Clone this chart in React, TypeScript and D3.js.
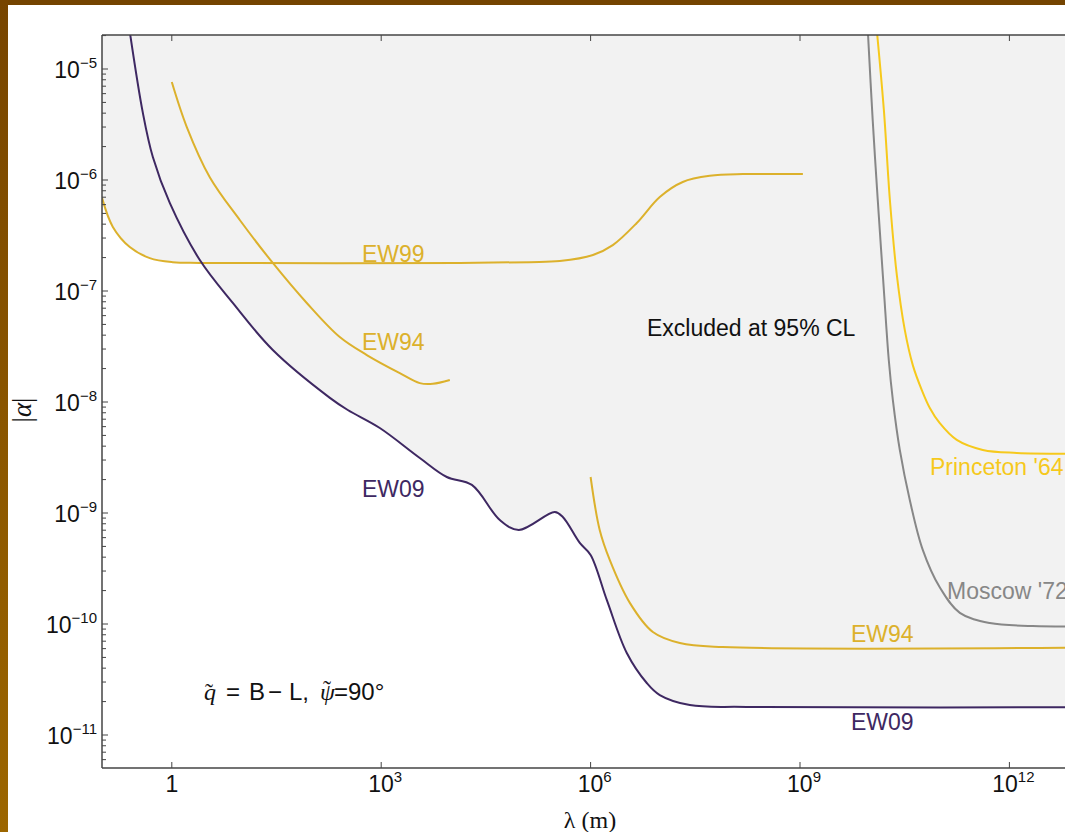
import React from "react";
import * as d3 from "d3";

type Pt = [number, number];

// [lambda (m), |alpha|]
const ew09: Pt[] = [
  [0.242, 2.49e-5], [0.385, 4.02e-6], [0.535, 1.61e-6], [0.935, 6.21e-7], [2.52, 1.9e-7],
  [7.48, 7.8e-8], [28.0, 2.94e-8], [184, 1.09e-8], [332, 8.47e-9], [955, 5.83e-9],
  [3573, 3.13e-9], [8710, 2.11e-9], [1.99e4, 1.79e-9], [5.0e4, 8.65e-10], [9.35e4, 7.03e-10],
  [3.07e5, 1.02e-9], [4.0e5, 9.2e-10], [7.0e5, 5.37e-10], [1.0e6, 4.19e-10], [1.71e6, 1.64e-10],
  [3.3e6, 5.48e-11], [6.38e6, 2.94e-11], [9.8e6, 2.29e-11], [2.64e7, 1.86e-11], [1.73e8, 1.79e-11],
  [1e14, 1.79e-11],
];

const ew99: Pt[] = [
  [0.1, 6.9e-7], [0.143, 3.78e-7], [0.25, 2.49e-7], [0.484, 1.98e-7], [1.03, 1.82e-7],
  [2.52, 1.79e-7], [1.34e4, 1.79e-7], [1.35e5, 1.82e-7], [3.62e5, 1.86e-7], [1.08e6, 2.11e-7],
  [2.08e6, 2.59e-7], [4.59e6, 4.1e-7], [9.8e6, 7.03e-7], [2.09e7, 9.6e-7], [5.1e7, 1.09e-6],
  [1.52e8, 1.13e-6], [1.1e9, 1.13e-6],
];

const ew94Short: Pt[] = [
  [1, 7.63e-6], [1.64, 3.0e-6], [3.5, 1.06e-6], [9.42, 4.36e-7], [28.0, 1.79e-7],
  [85.9, 7.8e-8], [255, 3.85e-8], [622, 2.65e-8], [1846, 1.82e-8], [3573, 1.48e-8],
  [5485, 1.46e-8], [9616, 1.58e-8],
];

const ew94Long: Pt[] = [
  [1.0e6, 2.11e-9], [1.35e6, 7.03e-10], [1.88e6, 3.78e-10], [3.65e6, 1.55e-10], [7.8e6, 8.47e-11],
  [1.9e7, 6.74e-11], [7.8e7, 6.2e-11], [1e14, 6.2e-11],
];

const princeton: Pt[] = [
  [1.26e10, 2.24e-5], [1.59e10, 4.28e-6], [1.94e10, 6.61e-7], [2.44e10, 1.39e-7], [3.17e10, 4.46e-8],
  [4.13e10, 2.15e-8], [5.56e10, 1.28e-8], [7.24e10, 8.83e-9], [1.0e11, 6.47e-9], [1.76e11, 4.55e-9],
  [4.16e11, 3.7e-9], [1.28e12, 3.48e-9], [1e14, 3.45e-9],
];

const moscow: Pt[] = [
  [9.36e9, 2.24e-5], [1.1e10, 3.48e-6], [1.3e10, 6.61e-7], [1.59e10, 1.02e-7], [1.87e10, 2.39e-8],
  [2.14e10, 1.04e-8], [2.69e10, 3.7e-9], [3.74e10, 1.31e-9], [5.74e10, 4.65e-10], [1.0e11, 2.15e-10],
  [1.95e11, 1.26e-10], [5.24e11, 1.02e-10], [2.16e12, 9.6e-11], [1e14, 9.5e-11],
];

const xMajorTicks = [1, 1e3, 1e6, 1e9, 1e12];
const xTickExp = ["", "3", "6", "9", "12"];
const yMajorTicks = [1e-5, 1e-6, 1e-7, 1e-8, 1e-9, 1e-10, 1e-11];
const yTickExp = ["−5", "−6", "−7", "−8", "−9", "−10", "−11"];

const W = 1065;
const H = 832;
const L = 102;
const T = 35;
const B = 768;

const x = d3.scaleLog().domain([0.1, 1e14]).range([L, L + 15 * 69.8]);
const y = d3.scaleLog().domain([1e-5, 1e-11]).range([69, 735]);

const curve = d3.curveCatmullRom.alpha(0.5);

const line = d3
  .line<Pt>()
  .x((d) => x(d[0]))
  .y((d) => y(d[1]))
  .curve(curve);

const area = d3
  .area<Pt>()
  .x((d) => x(d[0]))
  .y0(T - 50)
  .y1((d) => y(d[1]))
  .curve(curve);

const yMinor: number[] = [];
for (let e = -12; e <= -5; e++) {
  for (let k = 2; k <= 9; k++) {
    const v = k * Math.pow(10, e);
    const py = y(v);
    if (py > T && py < B) yMinor.push(v);
  }
}

const SANS = "'Liberation Sans', Arial, sans-serif";
const SERIF = "'Liberation Serif', 'Times New Roman', serif";

const YEL = "#dcb12c";
const PUR = "#3e2862";
const PRIN = "#f6c91c";
const MOS = "#878787";

export default function App() {
  return (
    <svg
      width={W}
      height={H}
      style={{ position: "fixed", left: 0, top: 0, display: "block" }}
      xmlns="http://www.w3.org/2000/svg"
    >
      <defs>
        <linearGradient id="lb" x1="0" y1="0" x2="0" y2="1">
          <stop offset="0" stopColor="#774500" />
          <stop offset="1" stopColor="#9c6600" />
        </linearGradient>
        <clipPath id="plot">
          <rect x={L} y={T} width={W - L} height={B - T} />
        </clipPath>
      </defs>
      <rect x={0} y={0} width={W} height={H} fill="#ffffff" />
      <rect x={0} y={0} width={W} height={5} fill="#744400" />
      <rect x={0} y={0} width={8} height={H} fill="url(#lb)" />

      <g clipPath="url(#plot)">
        <path d={area(ew99) || ""} fill="#f2f2f2" />
        <path d={area(ew09) || ""} fill="#f2f2f2" />
        <path d={line(ew99) || ""} fill="none" stroke={YEL} strokeWidth={2} />
        <path d={line(ew94Short) || ""} fill="none" stroke={YEL} strokeWidth={2} />
        <path d={line(ew94Long) || ""} fill="none" stroke={YEL} strokeWidth={2} />
        <path d={line(moscow) || ""} fill="none" stroke={MOS} strokeWidth={2} />
        <path d={line(princeton) || ""} fill="none" stroke={PRIN} strokeWidth={2} />
        <path d={line(ew09) || ""} fill="none" stroke={PUR} strokeWidth={2} />
      </g>

      {/* frame */}
      <g stroke="#444" strokeWidth={1.5} fill="none">
        <line x1={L} y1={T} x2={W} y2={T} />
        <line x1={L} y1={B} x2={W} y2={B} />
        <line x1={L} y1={T} x2={L} y2={B} />
      </g>

      {/* ticks */}
      <g stroke="#444" strokeWidth={1}>
        {xMajorTicks.map((v) => (
          <g key={"xt" + v}>
            <line x1={x(v)} x2={x(v)} y1={B} y2={B - 6} />
            <line x1={x(v)} x2={x(v)} y1={T} y2={T + 6} />
          </g>
        ))}
        {yMajorTicks.map((v) => (
          <line key={"yt" + v} x1={L} x2={L + 6} y1={y(v)} y2={y(v)} />
        ))}
        {yMinor.map((v) => (
          <line key={"ym" + v} x1={L} x2={L + 4} y1={y(v)} y2={y(v)} />
        ))}
      </g>

      {/* tick labels */}
      <g fontFamily={SANS} fill="#111">
        {xMajorTicks.map((v, i) =>
          xTickExp[i] === "" ? (
            <text key={"xl" + v} x={x(v)} y={792} fontSize={23} textAnchor="middle">
              1
            </text>
          ) : (
            <text key={"xl" + v} x={x(v) + 4} y={792} fontSize={23} textAnchor="middle">
              10
              <tspan fontSize={15} dy={-10}>
                {xTickExp[i]}
              </tspan>
            </text>
          )
        )}
        {yMajorTicks.map((v, i) => (
          <text key={"yl" + v} x={97} y={y(v) + 9} fontSize={23} textAnchor="end">
            10
            <tspan fontSize={15} dy={-10}>
              {yTickExp[i]}
            </tspan>
          </text>
        ))}
      </g>

      {/* axis titles */}
      <text x={590} y={828} fontFamily={SERIF} fontSize={24} textAnchor="middle" fill="#111">
        λ (m)
      </text>
      <text
        transform="translate(31,410) rotate(-90)"
        fontFamily={SERIF}
        fontSize={27}
        textAnchor="middle"
        fill="#111"
      >
        |<tspan fontStyle="italic">α</tspan>|
      </text>

      {/* curve labels */}
      <g fontFamily={SANS} fontSize={23}>
        <text x={362} y={262} fill={YEL}>EW99</text>
        <text x={362} y={350} fill={YEL}>EW94</text>
        <text x={362} y={497} fill={PUR}>EW09</text>
        <text x={851} y={642} fill={YEL}>EW94</text>
        <text x={851} y={730} fill={PUR}>EW09</text>
        <text x={930} y={475} fill={PRIN}>Princeton '64</text>
        <text x={947} y={599} fill={MOS}>Moscow '72</text>
        <text x={647} y={336} fill="#111">Excluded at 95% CL</text>
      </g>

      {/* formula */}
      <g fontSize={24} fill="#111">
        <text x={204} y={700} fontFamily={SERIF} fontStyle="italic">
          q<tspan fontStyle="normal" dx={-11}>˜</tspan>
        </text>
        <text x={226} y={700} fontFamily={SANS}>=</text>
        <text x={249} y={700} fontFamily={SANS}>B</text>
        <text x={268} y={700} fontFamily={SANS}>−</text>
        <text x={289} y={700} fontFamily={SANS}>L,</text>
        <text x={320} y={700} fontFamily={SERIF} fontStyle="italic">
          ψ<tspan fontStyle="normal" dx={-12} dy={-3}>˜</tspan>
        </text>
        <text x={334} y={700} fontFamily={SANS}>=90°</text>
      </g>
    </svg>
  );
}
